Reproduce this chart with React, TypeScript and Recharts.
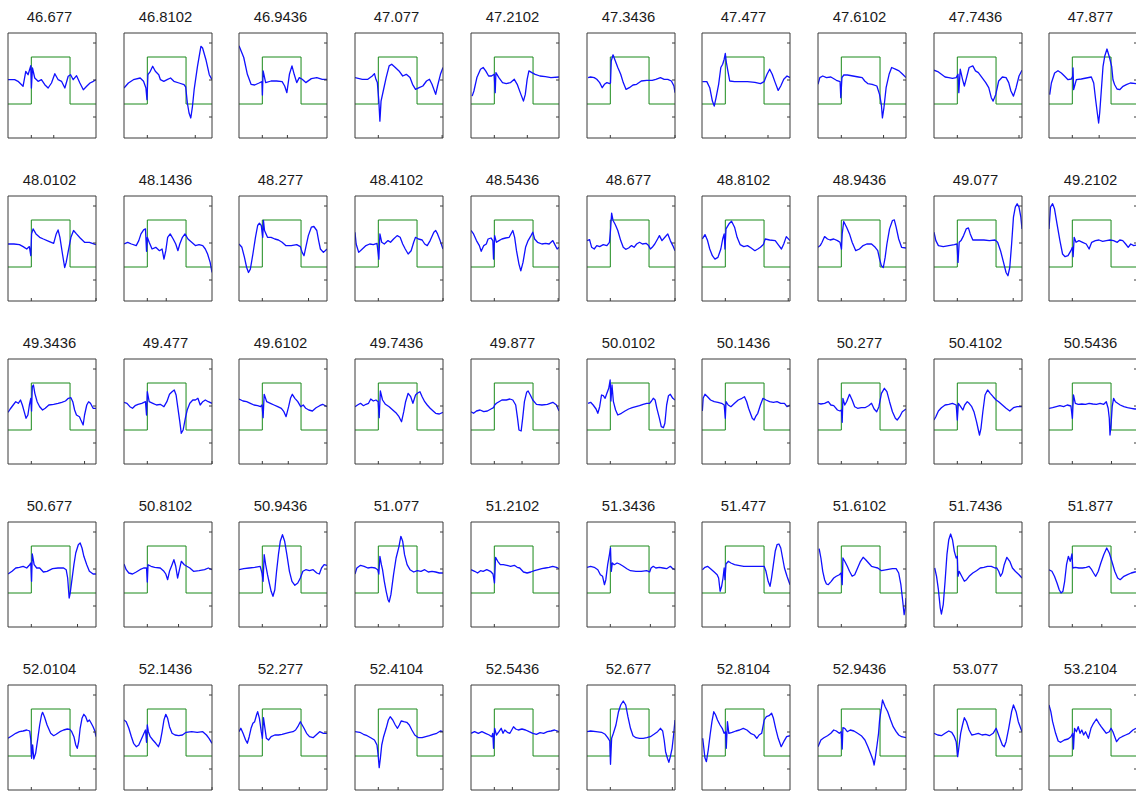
import { LineChart, Line, XAxis, YAxis } from "recharts";

// panel titles, row by row
const titles = [
  "46.677", "46.8102", "46.9436", "47.077", "47.2102", "47.3436", "47.477", "47.6102", "47.7436", "47.877",
  "48.0102", "48.1436", "48.277", "48.4102", "48.5436", "48.677", "48.8102", "48.9436", "49.077", "49.2102",
  "49.3436", "49.477", "49.6102", "49.7436", "49.877", "50.0102", "50.1436", "50.277", "50.4102", "50.5436",
  "50.677", "50.8102", "50.9436", "51.077", "51.2102", "51.3436", "51.477", "51.6102", "51.7436", "51.877",
  "52.0104", "52.1436", "52.277", "52.4104", "52.5436", "52.677", "52.8104", "52.9436", "53.077", "53.2104",
];

// square stimulus (green): x in % of window, y in plot units (0..105)
const stepOn = 26.5;
const stepOff = 70.5;
const lowLevel = 34;
const highLevel = 81;

const yTicks = [21, 58, 95];
// second x tick of each panel (first one sits on the step)
const xTick2 = [
  52, 81, 55, 99, 64, 100, 75, 74.5, 96.6, 57,
  100, 48, 79, 100, 99, 100, 98, 75, 90, null,
  87, 100, 56, 74, 58, 90, 62, 68, 54, 71,
  79, 62, 92.5, 50, null, 72, 79, 99, null, 60,
  81, 100, 68.5, 49, 47, 97, 70, 66, 90, null,
];

type Pt = [number, number];

const row1: Pt[][] = [
  [[0,58.3],[7.6,58.3],[11.4,56.7],[17.1,51.7],[20.2,66.7],[22.8,63.3],[25.9,72.3],[26.6,50],[27.8,70],[30.4,60],[34.2,56.7],[38,58.3],[41.8,53.3],[45.6,50],[49.4,55],[53.2,64.3],[57,58.3],[60.8,56.7],[64.6,50],[68.4,61.7],[71.1,63.3],[74.1,58.3],[77.9,62.3],[81.7,55],[85.6,48.3],[89.4,51.7],[93.2,55],[97,56.7],[100,58.3]],
  [[0,50],[5,55],[10.7,58.3],[18.4,60],[22.2,56.7],[24.9,50],[26.1,38.3],[27.2,63.3],[29.9,66.7],[32.6,71.7],[35.6,66.7],[39.5,63.3],[41.4,58.3],[45.2,56.7],[49,58.3],[52.9,60],[56.7,56.7],[62.5,55],[68.2,53.3],[70.1,51],[72,35],[73.9,25],[75.9,20],[77.8,31.7],[79.7,48.3],[83.5,71.7],[87.4,91.7],[89.3,90],[93.1,78.3],[96.9,63.3],[100,58.3]],
  [[0,92.3],[5.4,80.5],[9.5,63.7],[13.7,53.7],[17.8,53],[22.8,55],[26.1,56.4],[26.6,43],[27.4,67],[30.3,55.4],[36.5,57],[42.7,57],[49,56.4],[51.9,52],[54.4,45.3],[57.3,63.7],[60.2,72.1],[62.7,63.7],[65.6,55.4],[68.5,60.4],[71.8,58.7],[75.9,55.4],[82.2,59.4],[88.4,60.4],[94.6,58.7],[100,58.7]],
  [[0,60.4],[8.3,58.7],[14.6,58.7],[19.6,62],[22.1,64.4],[23.8,58.7],[25.4,55.4],[27.1,36.9],[28.3,16.8],[29.6,36.9],[32.1,47],[35.4,60.4],[38.8,72.1],[41.7,73.8],[45.8,70.5],[50,67.1],[54.2,62],[58.3,63.7],[62.5,60.4],[65.4,53.7],[68.8,48.6],[72.9,50.3],[77.1,52],[81.3,57],[84.6,58.7],[87.5,53.7],[91.7,43.6],[93.8,52],[97.1,63.7],[100,70.5]],
  [[1.3,41.9],[3.3,47],[6.7,60.4],[10.8,68.8],[13.8,70.5],[16.7,67.1],[20,62],[23.3,62],[26.3,63.7],[27.5,45.3],[28.3,65.4],[31.7,60.4],[35.8,55.4],[40,54.4],[45,55.4],[49.2,58.7],[52.5,53.7],[56.7,43.6],[59.6,36.9],[61.7,43.6],[63.8,58.7],[65.8,67.1],[69.2,65.4],[72.9,63.7],[78.3,62],[84.6,61.4],[90.8,60.4],[100,61]],
  [[1.2,60.4],[4.1,61],[8.2,60.4],[11.1,58.7],[14.4,55.4],[17.3,50.3],[19.8,53.7],[22.6,55.4],[25.9,54.4],[26.7,55],[27.6,77.2],[29.6,83.2],[32.1,77.2],[35,70.5],[38.3,63.7],[41.2,55.4],[44.4,48.6],[48.1,50.3],[52.3,53],[56.4,53.7],[61.7,57],[67.9,57.7],[74.1,57.7],[78.2,58.7],[83.5,60.4],[87.7,58.7],[91.8,58.7],[95.9,57],[98.8,52],[100,45.3]],
  [[0.4,56.4],[5.5,56.4],[8.8,50.3],[11.8,36.9],[13.9,31.9],[16,40.3],[18.9,53.7],[21.4,70.5],[23.5,73.8],[25.2,78.8],[26.5,84.5],[27.7,75.5],[29.4,67.1],[31.5,57],[37,56.4],[43.3,56.4],[51.7,56.4],[60.1,55.7],[66.4,54.4],[70.6,56.4],[73.9,63.7],[76.9,68.8],[79.8,63.7],[83.2,55.4],[86.6,47.6],[89.5,52],[92.9,58.7],[96.6,62],[100,60.4]],
  [[0,53.7],[2.1,60.4],[5.4,62],[9.6,60.4],[14.6,61],[20.9,57.7],[25.1,56.4],[25.9,40.3],[27.2,60.4],[29.3,63],[33.5,63],[39.7,62],[46,61],[50.2,60.4],[53.1,57],[56.5,54.4],[61.5,53.7],[66.9,52],[69.9,43.6],[72,33.5],[73.2,20.1],[74.9,30.2],[77.4,50.3],[80.8,63.7],[83.7,70.5],[87.9,68.8],[92.1,67.1],[96.2,63.7],[100,60.4]],
  [[0,67.8],[4.2,66.4],[8.4,63.7],[12.6,61],[16.8,60.4],[21,59.7],[25.2,60.4],[27.3,63.7],[28.2,45.3],[29.8,68.8],[32.4,58.7],[34.5,52],[37,60.4],[39.9,70.5],[44.1,72.1],[47.1,67.1],[50.4,65.4],[54.6,60.4],[58.8,55.4],[62.2,50.3],[65.1,40.3],[67.2,36.9],[70.2,43.6],[73.5,57],[77.7,61],[81.9,60.4],[84.9,55.4],[87.4,47],[90.3,41.9],[93.3,50.3],[96.6,62],[100,67.8]],
  [[0.8,43.3],[2.7,55],[6.4,65],[10.2,67.3],[14,65],[17.8,61.7],[21.6,58.3],[25.4,59],[26.9,61.7],[27.3,70],[28,48.3],[31.1,58.3],[36.7,59],[42.4,60],[48.1,61],[50.8,55],[53,38.3],[54.9,25],[56.4,15],[57.6,25],[59.5,48.3],[61.4,71.7],[63.3,81.7],[65.9,89],[68.9,80],[71.2,71.7],[72.7,58.3],[74.6,53.3],[77.3,49],[80.3,48.3],[84.1,51.7],[87.9,53.3],[92.4,55],[100,54.3]],
];

const row2: Pt[][] = [
  [[0,57],[6.7,57],[13,56.4],[17.2,54.4],[21.3,52],[24.3,54.4],[25.9,45.3],[26.8,67.1],[28.5,72.1],[31.8,67.1],[36,63.7],[40.2,62],[46.4,59.7],[51.9,57.7],[54.8,67.1],[56.9,71.1],[59,63.7],[61.9,47],[64.4,33.5],[66.1,38.6],[68.6,50.3],[71.5,63.7],[74.5,70.5],[77.8,67.1],[82,63],[87,58.7],[92.5,58.7],[100,56.4]],
  [[0,57],[4.2,58.7],[8.4,57],[13.9,55.4],[16.8,60.4],[19.3,67.1],[22.3,71.1],[24.4,72.1],[25.6,49.7],[26.5,63.7],[28.6,58.7],[31.9,52],[36.1,53.7],[40.3,50.3],[43.3,52],[45.4,41.9],[47.5,50.3],[49.6,63.7],[52.5,67.1],[55.9,62],[58.8,57],[61.3,50.3],[63.4,57],[66.4,63.7],[69.3,67.1],[72.7,62],[76.9,58.7],[81.1,55.4],[85.3,56.4],[89.5,55.4],[92.4,52],[95,47],[97.9,38.6],[100,28.5]],
  [[0,57],[3.3,53.7],[6.2,43.6],[8.7,33.5],[10.8,28.5],[12.9,31.9],[15.8,47],[18.7,63.7],[21.2,75.5],[23.2,77.8],[25.3,75.5],[27,63.7],[27.8,80.5],[29,70.5],[32.4,63.7],[36.5,63.7],[40.7,62],[44.8,61],[49,58.7],[53.1,55.4],[59.3,55.4],[65.6,56.4],[69.7,54.4],[71.8,48.6],[73.9,45.3],[75.9,53.7],[78.8,65.4],[82.2,73.8],[85.1,74.5],[88.4,70.5],[90.5,60.4],[92.5,52],[95.9,48.6],[100,52]],
  [[0,68.8],[1.3,57],[4.2,48.6],[8.3,52],[12.5,55.4],[16.7,57],[20.8,56.4],[25,57.7],[27.1,41.9],[28.3,67.1],[30.4,58.7],[33.3,57],[37.5,60.4],[40.4,58.7],[43.8,62],[47.9,65.4],[51.3,63.7],[54.2,57],[57.1,52],[60.4,47],[63.8,50.3],[66.7,58.7],[68.8,63.7],[72.1,62],[76.3,61],[79.2,57],[82.1,55.4],[85.4,60.4],[89.6,68.8],[91.7,70.5],[93.8,67.1],[96.7,60.4],[100,52]],
  [[0,70.5],[2.9,67.1],[6.2,60.4],[9.5,55.4],[11.6,49.7],[14.5,55.4],[17.4,57],[19.4,62],[22.7,63],[24.8,60.4],[25.6,41.9],[26.9,65.4],[28.9,58.7],[31.8,60.4],[35.1,62],[39.3,63],[43.4,63.7],[47.5,70.5],[49.6,63.7],[51.7,50.3],[54.5,36.9],[56.6,30.2],[59.1,38.6],[62,53.7],[64.9,60.4],[68.2,65.4],[70.2,68.8],[72.3,62],[75.6,58.7],[80.6,57],[84.7,57.7],[88.8,57],[93,60.4],[95.9,55.4],[97.9,52],[100,53.7]],
  [[0,60.4],[2.9,61.4],[5.3,53.7],[8.2,52],[11.1,55.4],[14.4,54.4],[18.5,56.4],[22.6,55.4],[25.5,58.7],[26.7,70.5],[28,87.9],[29.6,80.5],[32.1,76.5],[35,70.5],[38.3,60.4],[41.2,53.7],[44,51.7],[47.3,53],[50.6,55.4],[53.5,53.7],[56.4,57],[59.7,58.7],[63,57],[67.1,57.7],[70,55.4],[72,52],[74.1,53.7],[77,57],[80.2,62],[82.3,65.4],[85.2,60.4],[88.5,63.7],[91.8,67.1],[94.7,60.4],[97.5,55.4],[100,50.3]],
  [[0.4,62],[3.4,66.4],[6.3,60.4],[8.8,52],[11.8,45.3],[14.7,41.9],[18.1,43.6],[21.4,52],[23.5,62],[25.2,67.1],[26.1,52],[27.3,72.1],[30.7,77.2],[33.6,79.8],[37,73.8],[39.9,63.7],[43.3,56.4],[47.5,54.4],[51.7,55.4],[55.9,53],[60.1,50.3],[63.4,52],[66.4,53.7],[69.7,56.4],[71.8,62],[76.9,61],[83.2,60.4],[87.4,55.4],[90.3,52],[92.9,57],[95.8,64.4],[100,60.4]],
  [[0,53.7],[2.5,55.4],[4.6,58.7],[7.5,64.4],[10.8,62],[13.8,61],[17.9,62],[22.1,60.4],[25,58.7],[26.7,52],[27.5,67.1],[29.2,79.5],[32.5,73.8],[35.8,67.1],[38.8,58.7],[42.9,50.3],[47.1,52],[51.3,55.4],[55.4,57],[60.8,57],[65,53.7],[67.9,50.3],[70,41.9],[72.1,35.2],[74.2,33.5],[76.3,43.6],[78.3,57],[81.3,72.1],[84.6,80.5],[86.7,81.2],[88.8,73.8],[91.7,62],[95,53.7],[100,53]],
  [[0,68.8],[2.1,60.4],[5,55.4],[10.5,54.4],[16.8,55.4],[23.1,56.4],[26.1,57],[27.3,38.6],[28.6,58.7],[30.7,60.4],[33.6,65.4],[36.6,72.1],[39.1,73.1],[41.2,67.1],[44.1,61],[50.4,61],[56.7,61],[63,60.4],[69.3,61],[72.3,58.7],[75.6,50.3],[79,38.6],[81.9,28.5],[84,25.2],[86.1,33.5],[88.2,57],[90.3,83.9],[92.4,93.9],[94.5,97.3],[96.6,93.9],[98.7,83.9],[100,72.1]],
  [[0,72.1],[1.7,93.9],[4.1,97.3],[6.2,92.3],[9.1,77.2],[12.4,60.4],[15.4,47],[18.3,44.3],[21.6,45.3],[24.9,50.3],[26.6,53.7],[27.4,44.3],[28.6,63.7],[30.7,58.7],[34,60.4],[38.2,58.7],[42.3,57],[45.6,52],[48.5,58.7],[52.7,60.4],[56.8,61],[61,59.7],[65.1,60.4],[69.3,61],[73.4,60.4],[77.6,58.7],[80.5,61],[83.8,60.4],[87.1,57],[90,53.7],[92.9,57],[96.3,55.4],[100,56]],
];

const row3: Pt[][] = [
  [[0,51.7],[2.5,55],[5.9,59],[8.8,62.3],[11.7,60.7],[14.2,64],[16.3,59],[18.4,52.3],[20.5,45.7],[22.6,49],[24.3,59],[25.9,65.7],[26.8,53],[27.6,77.3],[28.9,79],[30.5,70.7],[33.1,62.3],[36,57.3],[39.3,54],[42.3,55.7],[46.4,59],[51.9,59.7],[56.9,60.7],[61.1,61.7],[65.3,63],[68.6,65.7],[71.5,66.3],[73.6,62.3],[75.7,54],[77.8,49],[81.2,47.3],[82.8,44],[85.4,39],[87,49],[89.5,59],[91.6,62.3],[93.7,60.7],[96.7,55.7],[100,55.7]],
  [[0,61.7],[3.4,60.7],[6.7,57.3],[9.7,55.7],[12.6,58.3],[16,59.7],[20.2,60.7],[24.4,62.3],[25.6,49],[26.5,72.3],[28.6,62.3],[32.8,60.7],[37,59],[41.2,59.7],[45.4,57.3],[48.7,62.3],[51.7,69.7],[54.6,72.3],[57.1,74],[59.2,69],[61.3,55.7],[63.4,42.3],[65.1,30.7],[67.2,34],[69.7,45.7],[71.8,54],[74.8,60.7],[78.2,64],[81.1,64],[84,65.7],[86.6,59],[89.5,62.3],[92.4,64],[95.8,62.3],[100,60.7]],
  [[0,65],[4.6,63],[8.7,62.3],[12.9,60.7],[17,59],[21.2,58.3],[24.5,57.3],[26.1,59],[27.4,46.3],[28.6,69.7],[31.5,62.3],[35.7,60.7],[39.8,59],[44,57.3],[48.1,55.7],[51,52.3],[53.5,47.3],[56.4,57.3],[58.5,65.7],[60.6,69.7],[63.5,65.7],[66.8,62.3],[70.1,57.3],[73,59],[75.9,55.7],[79.3,54],[83.4,53],[87.6,56.3],[91.7,58.3],[95,59.7],[100,57.3]],
  [[0,57.3],[2.9,59],[6.3,60.7],[9.6,58.3],[12.5,59.7],[15.4,60.7],[17.9,65],[20.8,63],[23.8,64],[26.3,62.3],[27.5,46.3],[28.8,73],[31.3,64],[34.6,59.7],[38.8,57.3],[42.9,54],[47.1,50.7],[50,47.3],[52.9,42.3],[55.4,52.3],[57.5,62.3],[60.4,70.7],[63.3,67.3],[65.8,60.7],[68.8,69],[70.8,70.7],[73.8,72.3],[76.3,67.3],[79.2,62.3],[82.1,59],[85.4,55.7],[88.8,53],[91.7,50.7],[95.8,50],[100,51.7]],
  [[0,52.3],[2.9,50.7],[6.2,53],[10.3,54],[14.5,52.3],[18.6,53],[22.7,55],[25.6,56.3],[26.9,59],[28.9,60.7],[31.8,62.3],[35.1,64],[40.1,64],[44.2,65],[47.5,64],[50.8,59],[52.9,45.7],[54.5,34],[57,33],[58.7,45.7],[60.7,62.3],[63.2,71.7],[64.9,73],[67.4,69],[70.2,64],[74.4,59.7],[80.6,59],[86.8,59.7],[93,61.7],[97.1,59],[100,53]],
  [[1.2,60.7],[4.1,61.7],[7,59],[10.3,55],[12.3,50.7],[14.4,57.3],[16.5,69],[18.5,68.3],[20.6,65.7],[22.6,70.7],[24.7,75.7],[26.3,84],[27.2,63],[28.4,79],[30,62.3],[32.5,54],[35,49],[39.1,50.7],[43.2,53],[47.3,55],[51.4,56.3],[55.6,57.3],[59.7,58.3],[63.8,59.7],[67.9,60.7],[71.2,60.7],[73.3,63],[75.3,65.7],[77.4,64],[79.4,55.7],[82.3,45.7],[84.4,37.3],[86.8,36.3],[88.5,40.7],[90.5,59],[92.6,68.3],[94.7,69.7],[97.5,65.7],[100,64]],
  [[0.4,53],[1.3,65.7],[3.4,69.7],[6.3,67.3],[9.7,64],[13.9,62.3],[18.1,61.7],[22.3,60.7],[25.2,59],[26.5,45.7],[27.3,62.3],[29.8,59],[32.8,57.3],[37,60.7],[41.2,64],[45.4,65.7],[48.3,67.3],[50.8,62.3],[52.9,55.7],[55,50.7],[57.1,45.7],[59.2,44],[60.9,47.3],[63.4,50.7],[66.4,59],[69.3,65.7],[72.7,64],[76.9,62.3],[81.1,61.7],[85.3,62.3],[89.5,60.7],[93.7,60.7],[96.6,57.3],[100,59]],
  [[0,60.7],[3.3,60],[7.5,60.7],[11.7,62.3],[14.6,59],[17.9,58.3],[22.1,54],[25,53],[26.7,54],[27.5,41.7],[28.3,65.7],[30.4,59],[32.5,62.3],[35.8,69.7],[38.8,64],[41.7,57.3],[45,55.7],[49.2,56.3],[53.3,56.3],[57.5,58.3],[60.8,60.7],[63.8,55],[66.7,52.3],[69.2,57.3],[72.1,70.7],[75.4,75.7],[78.3,72.3],[81.3,62.3],[84.6,52.3],[87.9,45.7],[90,44],[92.9,47.3],[95.8,52.3],[100,55]],
  [[0,44],[2.1,47.3],[5,53],[8.4,56.3],[12.6,59],[16.8,59.7],[21,60.7],[25.2,59],[26.5,44],[27.7,60.7],[30.3,57.3],[32.8,54],[34.9,59],[37.8,62.3],[39.9,60.7],[42.9,57.3],[45.4,52.3],[48.3,42.3],[50.4,34],[51.7,29],[53.4,35.7],[55.5,52.3],[58,69],[60.9,74],[63.9,70.7],[67.2,67.3],[70.6,64],[73.5,62.3],[77.7,59],[81.9,55.7],[86.1,53],[90.3,56.3],[94.5,57.3],[100,57.3]],
  [[0,55.7],[4.1,56.3],[8.3,57.3],[12.4,58.3],[16.6,57.3],[20.7,59],[24.9,58],[26.6,45.7],[27.8,69],[29.9,60.7],[33.2,59.7],[37.3,60],[41.5,59.7],[45.6,60.7],[49.8,60],[53.9,59.7],[58.1,60.7],[62.2,59.7],[65.1,62.3],[67.2,55.7],[68.5,45.7],[69.3,29],[70.5,39],[71.8,57.3],[73.4,65.7],[75.5,62.3],[78,60.7],[80.9,59],[85.1,57.3],[89.2,56.3],[93.4,55.7],[97.5,55],[100,55]],
];

const row4: Pt[][] = [
  [[0,53],[4.6,55.7],[8.8,59],[13,59.7],[17.2,60.7],[21.3,59],[24.7,62.3],[25.9,64],[26.8,45.7],[27.6,73],[29.7,62.3],[32.6,59],[36,59],[40.2,55],[44.4,55.7],[50.6,58.3],[56.9,59],[63.2,59],[66.1,57.3],[67.8,49],[69.5,29],[70.7,34],[72.4,45.7],[74.9,62.3],[77,74],[79.9,82.3],[82,84],[84.1,79],[86.2,70.7],[89.5,62.3],[92.5,55.7],[96.7,53],[100,53]],
  [[0,63],[2.5,57.3],[5.5,54],[9.7,53],[13.9,55],[18.1,57.3],[22.3,59],[25.6,59],[26.5,45],[27.3,62.3],[30.7,60.7],[34.9,59.7],[41.2,59],[45.4,55.7],[47.5,53],[49.6,47.3],[51.7,55.7],[54.6,62.3],[56.7,67.3],[58.8,60.7],[60.9,49],[63,57.3],[65.1,65.7],[68.5,62.3],[71.4,60.7],[74.8,59],[79,55.7],[85.3,56.3],[91.6,57.3],[95.8,59],[100,57.3]],
  [[0,57.3],[5.4,58.3],[11.6,59],[17.8,59.7],[24.1,60.7],[26.1,54],[27.4,45.7],[28.6,72.3],[30.3,62.3],[32.4,52.3],[34.4,44],[36.5,35.7],[38.6,30.7],[40.7,37.3],[42.7,55.7],[44.8,72.3],[46.9,85.7],[49.4,92.3],[51.9,85.7],[54.4,72.3],[57.3,55.7],[60.2,45.7],[63.5,41.7],[66.8,44],[69.7,49],[72.6,55.7],[75.9,57.3],[80.1,56.3],[84.2,57.3],[88.4,54],[91.3,53],[93.8,59],[96.7,62.3],[100,61.7]],
  [[0,53],[2.1,59],[6.3,61.7],[10.4,60.7],[14.6,59],[18.8,59.7],[22.9,59],[25.8,57.3],[27.1,53],[28.3,70.7],[30,62.3],[31.3,57.3],[33.3,45.7],[35.4,35.7],[37.5,27.3],[38.8,25],[40.8,32.3],[43.8,52.3],[46.7,69],[50,80.7],[52.1,90.7],[54.2,85.7],[56.3,72.3],[59.2,62.3],[62.5,57.3],[66.7,55],[70.8,56.3],[75,55.7],[79.2,57.3],[83.3,55],[87.5,55.7],[91.7,55],[95.8,54],[100,54]],
  [[0,57.3],[4.2,55.7],[7.5,54],[10.8,56.3],[13.8,55.7],[17.9,57.3],[22.1,55.7],[25,53],[26.7,44],[27.9,69.7],[30.4,65.7],[33.3,62.3],[36.7,62.3],[40.8,61.7],[45,60.7],[49.2,61.7],[52.5,59.7],[55.4,59],[59.6,55],[63.8,54],[67.9,55],[72.1,56.3],[76.3,57.3],[80.4,58.3],[84.6,59],[88.8,59.7],[92.9,60.7],[97.1,59.7],[100,58.3]],
  [[0,59.7],[4.1,60.7],[8.2,59.7],[12.3,57.3],[15.2,52.3],[17.7,50.7],[19.8,42.3],[21.4,47.3],[23.5,62.3],[25.5,72.3],[26.7,79],[27.6,55.7],[28.8,64],[30.9,62.3],[34.2,64],[37,63],[41.2,60.7],[45.3,58.3],[49.4,56.3],[55.6,55.7],[61.7,55.7],[67.9,56.3],[71.2,55],[72.8,59],[75.3,60.7],[78.2,59],[82.3,59.7],[86.4,59],[90.5,58.3],[94.7,60.7],[97.5,58.3],[100,57.3]],
  [[0.4,57.3],[3.4,59.7],[6.3,60.7],[9.7,58.3],[13.9,55],[17.2,52.3],[18.9,49],[20.6,35.7],[22.3,40.7],[23.9,49],[25.2,59],[26.1,47.3],[27.3,63],[29.8,65.7],[32.8,64],[37,62.3],[41.2,61.7],[47.5,60.7],[53.8,60.7],[60.1,60.7],[66.4,60.7],[70.6,60.7],[72.7,55.7],[75.2,45.7],[77.3,40.7],[79,49],[81.1,62.3],[83.2,75.7],[85.3,82.3],[87.4,83],[89.5,79],[91.6,69],[93.7,59],[96.6,50.7],[100,42.3]],
  [[1.3,78.3],[3.3,69],[5.4,55.7],[7.5,47.3],[9.6,43],[11.7,42.3],[15,45.7],[17.9,49],[20.8,50.7],[24.2,52.3],[26.3,54],[27.5,42.3],[28.3,69],[30.4,65.7],[33.3,60.7],[35.8,55.7],[38.8,50.7],[41.7,52.3],[45,59],[48.3,65.7],[51.3,69.7],[54.2,67.3],[57.5,64],[60.8,60.7],[65,59.7],[67.9,59],[72.1,56.3],[78.3,57.3],[84.6,58.3],[88.8,58.3],[91.7,54],[94.2,42.3],[96.3,25.7],[97.9,12.3],[99.2,19],[100,29]],
  [[0.8,59],[2.9,50.7],[5,37.3],[7.1,19],[8.4,13],[10.5,22.3],[12.6,45.7],[14.7,72.3],[16.8,87.3],[18.9,93],[21,87.3],[23.1,75.7],[25.2,69],[26.5,70.7],[27.3,50.7],[28.6,55.7],[31.5,50.7],[34.5,45.7],[37,47.3],[39.9,50.7],[44.1,54],[48.3,56.3],[52.5,59],[56.7,59.7],[60.9,60.7],[65.1,60.7],[69.3,59],[71.4,59],[73.5,55.7],[75.6,50.7],[77.7,54],[79.8,62.3],[82.8,69.7],[86.1,65.7],[89.1,59],[92.4,55.7],[96.6,52.3],[100,49]],
  [[0,57.3],[3.3,55.7],[6.2,50.7],[9.1,44],[11.6,37.3],[13.7,34],[15.8,35.7],[17.8,45.7],[19.9,62.3],[22,70.7],[24.1,65.7],[26.1,73],[27,59],[29.9,59.7],[34,59],[38.2,59],[42.3,59.7],[45.6,60.7],[48.5,57.3],[50.6,54],[53.1,50.7],[56,55.7],[58.9,64],[62.2,72.3],[65.6,79],[68.5,74],[71.4,65.7],[74.7,55.7],[78,49],[80.9,47.3],[85.1,50.7],[89.2,52.3],[93.4,54],[97.5,55],[100,55.3]],
];

const row5: Pt[][] = [
  [[0,51.7],[4.6,54.3],[8.8,56.7],[13,58.3],[17.2,59],[21.3,60],[24.7,59],[25.9,50],[26.8,31.7],[28,45],[29.3,31],[31.4,36.7],[33.9,51.7],[36,65],[38.1,75],[39.3,77.7],[41.4,73.3],[44.4,65],[48.5,56.7],[51.9,54.3],[54.8,55.7],[59,58.3],[63.2,60],[67.4,61],[70.3,60.7],[72.4,58.3],[74.9,53.3],[77,45],[78.7,41.7],[80.3,48.3],[82,61.7],[84.1,71.7],[86.2,75.7],[88.3,73.3],[90.4,68.3],[92.5,70],[94.6,66.7],[96.7,63.3],[98.7,59],[100,53.3]],
  [[0,70],[2.5,68.3],[5.5,61.7],[8.4,53.3],[10.9,46.7],[13.9,43.3],[16.8,45],[20.2,51.7],[22.7,56.7],[24.4,60],[25.6,47.7],[26.5,65],[27.7,58.3],[29.8,53.3],[32.8,50],[36.1,46.7],[39.1,43.3],[41.2,48.3],[43.3,58.3],[45.4,70],[47.5,75.7],[49.6,71.7],[51.7,63.3],[54.6,56.7],[58,55],[62.2,54.3],[66.4,55],[70.6,57.7],[76.9,58.3],[83.2,57.7],[89.5,58.3],[93.7,55],[96.6,51.7],[100,46.7]],
  [[0,58.3],[2.1,61.7],[4.6,56.7],[7.5,50],[9.5,46.7],[11.6,53.3],[13.7,61.7],[15.8,66.7],[17.8,68.3],[19.9,75],[21.2,78.3],[23.2,71.7],[25.3,58.3],[26.6,51.7],[27.8,72.3],[29.5,61.7],[31.1,51.7],[33.6,50],[36.5,53.3],[40.7,55],[44.8,55],[49,55.7],[53.1,56.7],[57.3,57.7],[61.4,58.3],[64.3,60],[66.8,63.3],[69.7,68.3],[71.8,65],[73.9,61.7],[76.8,56.7],[80.1,53.3],[84.2,52.3],[87.6,55],[91.7,58.3],[95.9,56.7],[100,56.7]],
  [[0,58.3],[5.4,57.7],[9.6,55.7],[13.8,54.3],[17.9,52.3],[22.1,50],[25,45],[26.3,35],[27.5,22.3],[28.8,31.7],[30.4,45],[32.5,53.3],[35.4,61.7],[37.9,70],[40,73.3],[42.9,70],[45.8,65],[48.3,61.7],[50.4,65],[52.5,69],[55.4,68.3],[58.8,67.7],[61.7,65],[64.6,60],[67.9,55],[72.1,52.3],[76.3,52.3],[80.4,53.3],[84.6,54.3],[88.8,55.7],[92.9,56.7],[97.1,59],[100,58.3]],
  [[0,56.7],[4.1,58.3],[8.3,56.7],[12.4,58.3],[16.5,56.7],[20.7,55],[23.6,53.3],[24.8,56.7],[25.6,41.7],[26.9,61.7],[28.9,55],[31.8,58.3],[34.3,61.7],[36.4,56.7],[38.4,60],[41.3,57.7],[44.2,56.7],[46.3,60],[48.3,63.3],[50.8,61],[53.7,60],[57.9,61],[62,60],[66.1,58.3],[70.2,56.7],[74.4,55.7],[78.5,57.3],[82.6,56.7],[86.8,58.3],[90.9,59],[95,60],[100,58.3]],
  [[0,58.3],[4.1,59],[10.3,58.3],[16.5,57.7],[20.6,55.7],[23.5,52.3],[25.9,49],[26.7,25.7],[28,51.7],[30,56.7],[32.9,65],[35.8,78.3],[38.3,85],[41.2,89],[44,85],[46.5,73.3],[49.4,61.7],[52.3,54.3],[55.6,52.3],[59.7,51.7],[63.8,51.7],[67.9,52.3],[72,53.3],[76.1,55.7],[80.2,58.3],[83.5,61.7],[86,59],[87.7,50],[89.3,38.3],[91.4,31.7],[93,27.7],[94.7,33.3],[96.7,41.7],[98.4,55],[100,70]],
  [[0.8,51.7],[2.1,41.7],[3.3,32.3],[5,28.3],[7.1,40],[9.2,55],[11.3,68.3],[13.4,78.3],[15.5,75],[17.6,70],[20.5,65],[23,61.7],[25.1,56.7],[26.8,58.3],[27.6,41.7],[28.9,68.3],[30.5,56.7],[34.3,57.7],[38.5,59],[42.7,60],[46.9,61.7],[51,60],[55.2,56.7],[59.4,55],[62.3,51.7],[64.9,55],[67.8,56.7],[70.7,70],[73.2,73.3],[76.2,74.3],[79.1,76.7],[81.2,71.7],[83.7,61.7],[86.6,51.7],[90,43.3],[92.9,48.3],[96.2,53.3],[100,54.3]],
  [[0,43.3],[3.3,50],[6.7,52.3],[10.8,54.3],[14.6,56.7],[17.9,60],[20.8,59],[24.2,56.7],[26.3,58.3],[27.5,41],[28.3,62.3],[30.4,61.7],[33.3,58.3],[36.7,60],[40.8,59],[45,56.7],[49.2,54.3],[53.3,50],[56.7,43.3],[59.6,36.7],[62.5,30],[63.8,25],[65,31.7],[67.1,45],[68.8,56.7],[70,70],[71.7,80],[73.3,90],[76.3,83.3],[79.2,78.3],[82.5,70],[85.4,63.3],[88.8,58.3],[91.7,55],[95,53.3],[100,52.3]],
  [[0,56.7],[4.2,55],[8.4,54.3],[12.6,56.7],[16.8,59],[20.2,57.7],[23.1,53.3],[25.2,48.3],[26.9,33.3],[28.6,45],[30.3,56.7],[32.4,65],[34.5,72.3],[37,68.3],[39.9,60],[42.9,55],[46.2,55.7],[50.4,56.7],[54.6,55],[58.8,55.7],[63,54.3],[67.2,56.7],[70.6,61.7],[72.7,56.7],[74.8,51.7],[77.7,45],[79.8,43.3],[81.9,48.3],[84.9,61.7],[88.2,78.3],[90.3,85],[93.3,78.3],[95.8,68.3],[97.9,63.3],[100,58.3]],
  [[0,85],[2.1,78.3],[4.1,68.3],[7.5,56.7],[10.4,49],[13.3,47.7],[17.4,50],[21.6,51],[24.9,53.3],[27,56.7],[27.8,41],[29,61.7],[31.1,58.3],[33.2,63.3],[35.3,56.7],[37.3,60],[39.4,55],[41.5,58.3],[44.8,51.7],[47.7,61.7],[50.6,66.7],[53.9,71],[56.8,66.7],[59.3,63.3],[62.2,60],[65.1,56.7],[68.5,58.3],[70.5,61.7],[72.6,58.3],[74.7,53.3],[76.8,48.3],[79.7,51.7],[83,53.3],[87.1,55],[91.3,56.7],[95.4,60],[98.8,61.7]],
];

const traces = [...row1, ...row2, ...row3, ...row4, ...row5];

const stimulus = [
  { x: 0, y: lowLevel },
  { x: stepOn, y: lowLevel },
  { x: stepOn, y: highLevel },
  { x: stepOff, y: highLevel },
  { x: stepOff, y: lowLevel },
  { x: 100, y: lowLevel },
];

const W = 88;
const H = 105;
const frame = "#3a3a3a";

function Panel({ i }: { i: number }) {
  const left = Math.round(8 + (i % 10) * 115.7);
  const top = Math.round(33 + Math.floor(i / 10) * 163);
  const data = traces[i].map(([x, y]) => ({ x, y }));
  const xt = xTick2[i] == null ? [stepOn] : [stepOn, xTick2[i] as number];
  const blank = () => "";
  return (
    <div style={{ position: "absolute", left: left - 1, top: top - 1, width: W + 2, height: H + 2 }}>
      <div
        style={{
          position: "absolute",
          left: -20 - 2.5,
          width: W + 42,
          top: -22.4,
          textAlign: "center",
          fontFamily: "'Liberation Sans', Arial, sans-serif",
          fontSize: 14.8,
          lineHeight: "15px",
          color: "#1a1a1a",
          whiteSpace: "nowrap",
        }}
      >
        {titles[i]}
      </div>
      <LineChart width={W + 2} height={H + 2} margin={{ top: 1, right: 1, bottom: 1, left: 1 }}>
        <XAxis
          xAxisId="b"
          type="number"
          dataKey="x"
          domain={[0, 100]}
          allowDataOverflow
          ticks={xt}
          orientation="bottom"
          mirror
          tickSize={3}
          tickFormatter={blank}
          stroke={frame}
        />
        <XAxis
          xAxisId="t"
          type="number"
          dataKey="x"
          domain={[0, 100]}
          allowDataOverflow
          ticks={[]}
          orientation="top"
          mirror
          tickLine={false}
          tickFormatter={blank}
          stroke={frame}
        />
        <YAxis
          yAxisId="l"
          type="number"
          domain={[0, H]}
          allowDataOverflow
          ticks={[]}
          mirror
          tickLine={false}
          tickFormatter={blank}
          stroke={frame}
        />
        <YAxis
          yAxisId="r"
          type="number"
          orientation="right"
          domain={[0, H]}
          allowDataOverflow
          ticks={yTicks}
          mirror
          tickSize={3}
          tickFormatter={blank}
          stroke={frame}
        />
        <Line
          xAxisId="b"
          yAxisId="l"
          data={stimulus}
          dataKey="y"
          type="linear"
          stroke="#1a8a1a"
          strokeWidth={1}
          dot={false}
          isAnimationActive={false}
        />
        <Line
          xAxisId="b"
          yAxisId="l"
          data={data}
          dataKey="y"
          type="linear"
          stroke="#1010ff"
          strokeWidth={1.3}
          strokeLinejoin="round"
          dot={false}
          isAnimationActive={false}
        />
      </LineChart>
    </div>
  );
}

export default function App() {
  return (
    <div
      style={{
        position: "fixed",
        left: 0,
        top: 0,
        width: 1136,
        height: 792,
        overflow: "hidden",
        background: "#fff",
      }}
    >
      {titles.map((_, i) => (
        <Panel key={i} i={i} />
      ))}
    </div>
  );
}
